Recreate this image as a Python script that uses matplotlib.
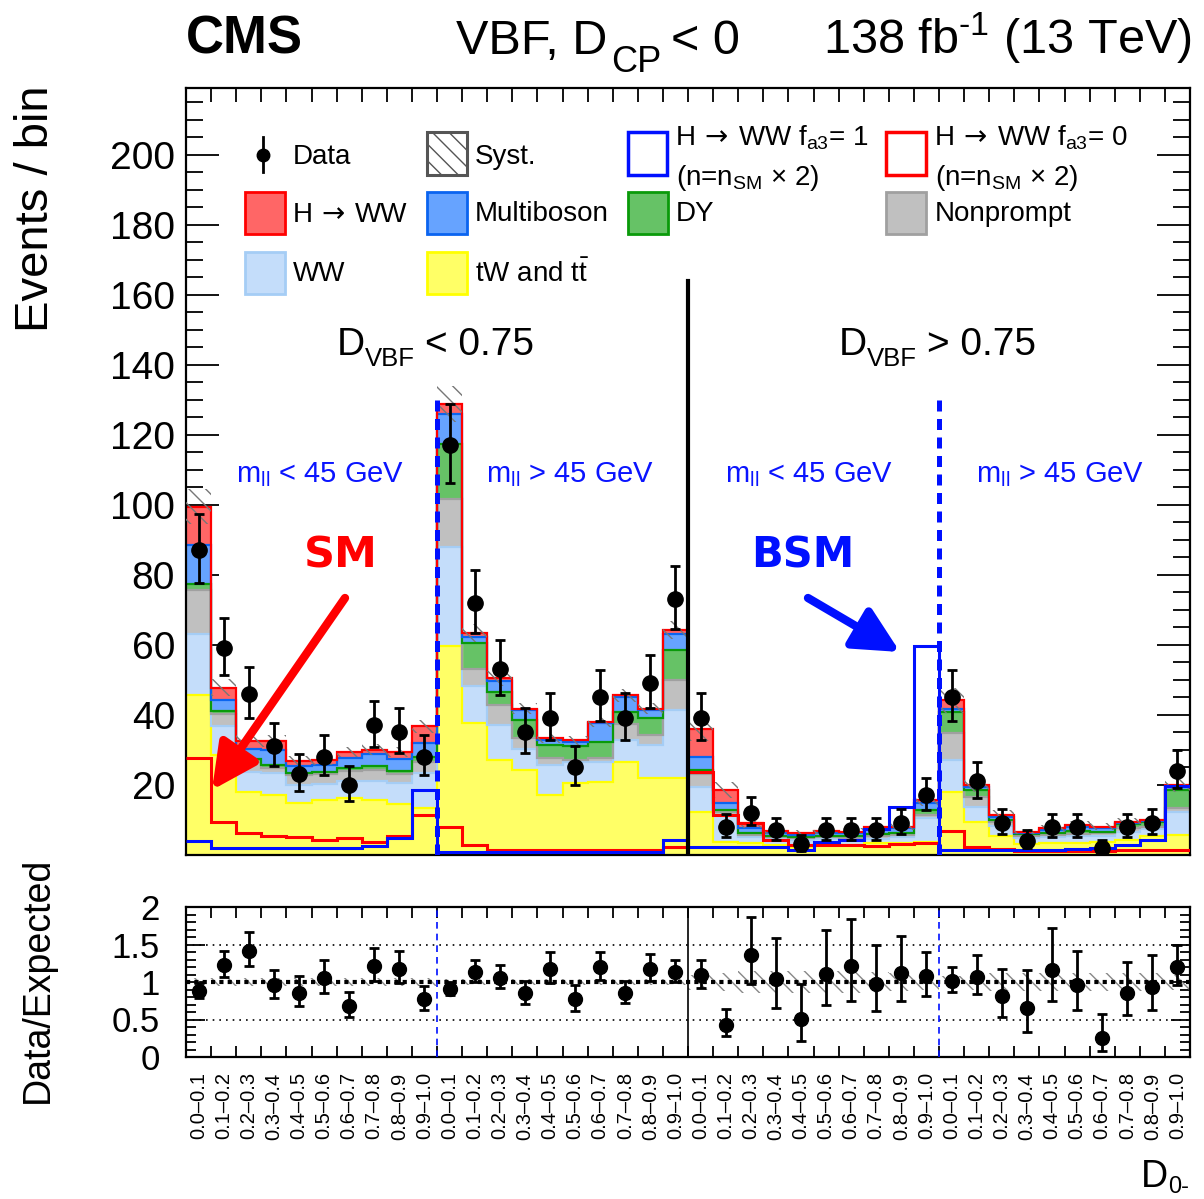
import numpy as np
import matplotlib
matplotlib.use("Agg")
import matplotlib.pyplot as plt
from matplotlib.patches import Rectangle

plt.rcParams['font.family'] = ['Liberation Sans', 'DejaVu Sans']
plt.rcParams['mathtext.fontset'] = 'custom'
plt.rcParams['mathtext.rm'] = 'Liberation Sans'
plt.rcParams['mathtext.it'] = 'Liberation Sans:italic'
plt.rcParams['mathtext.bf'] = 'Liberation Sans:bold'
plt.rcParams['hatch.linewidth'] = 1.0

# ---- data (40 bins: 4 categories x 10 D0- bins) ----
bin_labels = ["0.0–0.1", "0.1–0.2", "0.2–0.3", "0.3–0.4", "0.4–0.5",
              "0.5–0.6", "0.6–0.7", "0.7–0.8", "0.8–0.9", "0.9–1.0"]

ttbar = [45.6, 28.5, 18.1, 17.1, 14.9, 15.7, 16.4, 15.7, 14.7, 13.5,
         59.6, 37.6, 27.1, 24.2, 17.1, 20.5, 20.9, 26.6, 21.9, 21.9,
         12.4, 3.8, 3.5, 2.9, 2.4, 3.1, 2.9, 3.3, 3.3, 3.8,
         18.1, 9.5, 5.4, 3.1, 3.3, 3.3, 3.8, 4.3, 5.4, 5.7]
ww = [17.4, 8.3, 5.7, 6.4, 5.1, 4.6, 4.8, 5.5, 5.8, 10.0,
      28.3, 10.6, 10.0, 6.2, 8.6, 6.1, 5.7, 6.2, 9.5, 19.5,
      7.1, 7.6, 1.7, 1.8, 1.9, 1.4, 1.4, 1.4, 1.7, 6.7,
      9.0, 4.3, 2.9, 1.7, 1.7, 2.0, 1.7, 2.3, 1.9, 6.7]
nonprompt = [12.6, 3.6, 2.8, 1.4, 2.8, 2.7, 2.8, 3.0, 2.5, 3.1,
             13.8, 5.0, 5.7, 2.9, 1.9, 0.5, 1.0, 4.7, 2.8, 8.5,
             3.6, 1.0, 0.5, 0.5, 0.5, 0.5, 0.6, 0.6, 0.7, 1.0,
             7.6, 2.8, 1.0, 0.6, 0.7, 0.7, 0.7, 1.0, 0.8, 0.9]
dy = [1.7, 0.7, 0.7, 0.7, 0.5, 0.6, 0.7, 1.2, 1.0, 1.4,
      15.7, 7.2, 3.8, 5.2, 3.8, 4.0, 4.7, 3.4, 4.8, 8.6,
      1.3, 0.4, 0.5, 0.2, 0.4, 0.5, 0.4, 0.6, 0.5, 1.3,
      6.2, 1.9, 0.7, 0.5, 0.6, 0.9, 0.5, 1.2, 1.3, 5.4]
multiboson = [11.1, 3.1, 3.0, 4.5, 2.1, 2.1, 2.9, 3.4, 3.3, 3.9,
              8.4, 1.9, 3.1, 3.0, 1.4, 1.2, 5.4, 4.3, 2.4, 4.7,
              3.5, 2.1, 1.4, 0.8, 0.5, 0.7, 0.9, 1.4, 1.4, 2.1,
              0.9, 0.9, 0.9, 0.5, 0.8, 1.2, 1.1, 0.4, 0.4, 0.7]
hww = [11.1, 3.6, 2.3, 2.5, 1.5, 1.4, 1.9, 1.3, 2.2, 4.9,
       3.0, 1.1, 0.7, 0.3, 0.5, 0.5, 0.3, 0.4, 0.4, 1.1,
       8.2, 3.6, 1.6, 0.7, 0.5, 0.7, 0.5, 0.6, 0.5, 0.8,
       2.4, 0.6, 0.5, 0.3, 0.5, 0.5, 0.3, 0.3, 0.2, 0.6]

fa3_1 = [4.1, 1.9, 1.9, 1.9, 1.9, 1.9, 1.9, 2.6, 4.8, 18.5,
         0.9, 0.9, 0.9, 0.9, 0.9, 0.9, 0.9, 0.9, 0.9, 4.3,
         2.4, 2.3, 2.3, 2.3, 1.4, 3.8, 4.3, 7.3, 13.8, 59.6,
         1.4, 1.4, 1.3, 1.3, 1.3, 1.7, 2.0, 2.8, 4.3, 19.8]
fa3_0 = [27.6, 9.5, 6.4, 5.4, 5.0, 4.3, 4.8, 3.8, 5.4, 11.4,
         8.1, 2.9, 1.4, 1.4, 1.4, 1.4, 1.4, 1.4, 1.4, 2.4,
         23.8, 11.4, 9.1, 4.3, 2.9, 2.9, 2.8, 2.6, 3.0, 3.3,
         6.9, 2.4, 1.6, 1.2, 1.2, 1.2, 1.2, 1.4, 1.4, 1.4]

data = [87, 59, 46, 31, 23, 28, 20, 37, 35, 28,
        117, 72, 53, 35, 39, 25, 45, 39, 49, 73,
        39, 8, 12, 7, 3, 7, 7, 7, 9, 17,
        45, 21, 9, 4, 8, 8, 2, 8, 9, 24]

ratio = [0.88, 1.23, 1.42, 0.96, 0.86, 1.06, 0.68, 1.22, 1.18, 0.77,
         0.91, 1.14, 1.06, 0.85, 1.18, 0.77, 1.20, 0.86, 1.18, 1.14,
         1.09, 0.43, 1.36, 1.04, 0.51, 1.11, 1.21, 0.98, 1.12, 1.08,
         1.02, 1.07, 0.81, 0.66, 1.16, 0.96, 0.26, 0.86, 0.94, 1.20]

syst = [0.05, 0.05, 0.05, 0.05, 0.05, 0.05, 0.05, 0.05, 0.05, 0.05,
        0.04, 0.04, 0.04, 0.04, 0.04, 0.04, 0.04, 0.04, 0.04, 0.04,
        0.10, 0.12, 0.15, 0.15, 0.15, 0.15, 0.15, 0.14, 0.12, 0.10,
        0.08, 0.10, 0.12, 0.12, 0.12, 0.12, 0.12, 0.12, 0.12, 0.10]

# bottom -> top
stack = [(ttbar, "#ffff66", "#ffff00"),
         (ww, "#c4ddfa", "#a5cdf5"),
         (nonprompt, "#c0c0c0", "#a0a0a0"),
         (dy, "#66c266", "#0a9a0a"),
         (multiboson, "#66a3ff", "#0a64f0"),
         (hww, "#ff6666", "#ff0000")]

W, H = 1204, 1199
fig = plt.figure(figsize=(W / 100, H / 100), dpi=100)
ax = fig.add_axes([186 / W, 1 - 855 / H, 1004 / W, 767 / H])
ax2 = fig.add_axes([186 / W, 1 - 1057 / H, 1004 / W, 150 / H])

edges = np.arange(41)
centers = edges[:-1] + 0.5
data = np.array(data, dtype=float)
ratio = np.array(ratio)
syst = np.array(syst)

bottom = np.zeros(40)
for vals, face, edge in stack:
    top = bottom + np.array(vals)
    ax.stairs(top, edges, baseline=bottom, fill=True, color=face, lw=0, zorder=2)
    ax.stairs(top, edges, baseline=None, color=edge, lw=1.6, zorder=2.5)
    bottom = top
total = bottom

ax.stairs(total * (1 + syst), edges, baseline=total * (1 - syst), fill=True,
          facecolor='none', edgecolor='#777777', lw=0, hatch='\\\\', zorder=3)

ax.stairs(fa3_0, edges, baseline=None, color='#ff0000', lw=2.2, zorder=4)
ax.stairs(fa3_1, edges, baseline=None, color='#0010ff', lw=2.2, zorder=4.1)

err_lo = np.sqrt(data)
err_hi = np.sqrt(data) + 1
ax.errorbar(centers, data, yerr=[err_lo, err_hi], fmt='o', color='black', ms=11,
            elinewidth=2, capsize=3.5, capthick=2, zorder=6)

ax.plot([20, 20], [0, 164], color='black', lw=3, zorder=5)
for xv in (10, 30):
    ax.plot([xv, xv], [0, 130], color='#0010ff', lw=3.6, ls=(0, (2.2, 1.5)), zorder=5)

ax.set_xlim(0, 40)
ax.set_ylim(0, 219)
ax.set_yticks(np.arange(20, 201, 20))
ax.set_yticks(np.arange(5, 219, 5), minor=True)
ax.set_xticks(centers)
ax.set_xticks(edges, minor=True)
ax.tick_params(axis='y', which='major', direction='in', length=24, width=1.3,
               right=True, labelsize=28, pad=8)
ax.tick_params(axis='y', which='minor', direction='in', length=12, width=1.3, right=True)
ax.tick_params(axis='x', which='major', length=0, labelbottom=False)
ax.tick_params(axis='x', which='minor', direction='in', length=10, width=1.3,
               top=True, bottom=True)
for s in ax.spines.values():
    s.set_linewidth(1.6)

# ratio panel
ax2.stairs(1 + syst, edges, baseline=1 - syst, fill=True, facecolor='none',
           edgecolor='#888888', lw=0, hatch='\\\\', zorder=2)
ax2.axhline(1.0, color='black', lw=3, ls=(0, (1, 1)), zorder=3)
for yv in (0.5, 1.5):
    ax2.axhline(yv, color='black', lw=1.2, ls=(0, (1, 3)), zorder=3)
for xv in (10, 30):
    ax2.axvline(xv, color='#0010ff', lw=1.2, ls=(0, (4, 3)), zorder=3)
ax2.axvline(20, color='black', lw=1.2, zorder=3)
r_lo = ratio * err_lo / data
r_hi = ratio * err_hi / data
ax2.errorbar(centers, ratio, yerr=[r_lo, r_hi], fmt='o', color='black', ms=10,
             elinewidth=2, capsize=3.5, capthick=2, zorder=6)
ax2.set_xlim(0, 40)
ax2.set_ylim(0, 2.0)
ax2.set_yticks([0, 0.5, 1, 1.5, 2])
ax2.set_yticklabels(["0", "0.5", "1", "1.5", "2"])
ax2.set_yticks(np.arange(0, 2.01, 0.1), minor=True)
ax2.set_xticks(centers)
ax2.set_xticklabels(bin_labels * 4, rotation=90, fontsize=14.5)
ax2.set_xticks(edges, minor=True)
ax2.tick_params(axis='y', which='major', direction='in', length=14, width=1.3,
                right=True, labelsize=25, pad=19)
ax2.tick_params(axis='y', which='minor', direction='in', length=7, width=1.3, right=True)
ax2.tick_params(axis='x', which='major', length=0, pad=11)
ax2.tick_params(axis='x', which='minor', direction='in', length=8, width=1.3,
                top=True, bottom=True)
for s in ax2.spines.values():
    s.set_linewidth(1.6)

# overlay in pixel coordinates for texts, legend and arrows
ov = fig.add_axes([0, 0, 1, 1], zorder=10)
ov.set_xlim(0, W)
ov.set_ylim(H, 0)
ov.axis('off')
ov.patch.set_alpha(0)

ov.text(186, 54, "CMS", fontsize=38, fontweight='bold', ha='left', va='baseline')
ov.text(456, 54, "VBF, D", fontsize=35, ha='left', va='baseline')
ov.text(611, 72, "CP", fontsize=26, ha='left', va='baseline')
ov.text(671, 54, "< 0", fontsize=35, ha='left', va='baseline')
ov.text(1192, 54, r"138 fb$^{\text{-1}}$ (13 TeV)", fontsize=35, ha='right', va='baseline')
ov.text(36, 85, "Events / bin", fontsize=34, rotation=90, ha='center', va='top')
ov.text(38, 980, "Data/Expected", fontsize=27, rotation=90, ha='center', va='center')
ov.text(1141, 1187, "D", fontsize=27, ha='left', va='baseline')
ov.text(1168, 1193, "0-", fontsize=17, ha='left', va='baseline')

for x0, sign in ((337, "<"), (839, ">")):
    ov.text(x0, 355, "D", fontsize=28, ha='left', va='baseline')
    ov.text(x0 + 28, 366, "VBF", fontsize=18.5, ha='left', va='baseline')
    ov.text(x0 + 88, 355, sign + " 0.75", fontsize=28, ha='left', va='baseline')

blue_txt = '#0a14ff'
for xc, sign in ((320, "<"), (570, ">"), (809, "<"), (1060, ">")):
    ov.text(xc, 482, r"m$_{\mathregular{ll}}$ " + sign + " 45 GeV", fontsize=21,
            color=blue_txt, ha='center', va='baseline')

ov.text(341, 567, "SM", fontsize=31, color='#ff0000', fontweight='bold',
        family='DejaVu Sans', ha='center', va='baseline')
ov.text(803, 567, "BSM", fontsize=30, color='#0010ff', fontweight='bold',
        family='DejaVu Sans', ha='center', va='baseline')
ov.annotate("", xy=(212, 790), xytext=(345, 598),
            arrowprops=dict(arrowstyle='-|>,head_length=1.1,head_width=0.55',
                            lw=6, color='#ff0000', mutation_scale=25,
                            shrinkA=0, shrinkB=0))
ov.annotate("", xy=(900, 652), xytext=(808, 598),
            arrowprops=dict(arrowstyle='-|>,head_length=1.1,head_width=0.55',
                            lw=6, color='#0010ff', mutation_scale=25,
                            shrinkA=0, shrinkB=0))

# legend
fs_leg = 20


def hww_text(x, y, rest):
    ov.text(x, y, "H", fontsize=fs_leg, ha='left', va='baseline')
    ov.text(x + 28, y, "→", fontsize=fs_leg, family='DejaVu Sans', ha='left', va='baseline')
    ov.text(x + 62, y, rest, fontsize=fs_leg, ha='left', va='baseline')


ov.plot([263, 263], [137, 172], color='black', lw=2)
ov.plot([263], [155], 'o', color='black', ms=9)
ov.text(293, 157, "Data", fontsize=fs_leg, ha='left', va='center')
ov.add_patch(Rectangle((427, 132), 40, 43, facecolor='white', edgecolor='#555555',
                       lw=2.2, hatch='\\\\'))
ov.text(475, 157, "Syst.", fontsize=fs_leg, ha='left', va='center')
ov.add_patch(Rectangle((628, 132), 39, 43, facecolor='white', edgecolor='#0010ff', lw=2.5))
hww_text(676, 145, r"WW f$_{\mathregular{a3}}$= 1")
ov.text(676, 185, r"(n=n$_{\mathregular{SM}}$ × 2)", fontsize=fs_leg, ha='left', va='baseline')
ov.add_patch(Rectangle((886, 132), 40, 43, facecolor='white', edgecolor='#ff0000', lw=2.5))
hww_text(935, 145, r"WW f$_{\mathregular{a3}}$= 0")
ov.text(935, 185, r"(n=n$_{\mathregular{SM}}$ × 2)", fontsize=fs_leg, ha='left', va='baseline')

leg_rows = [((245, 192), "#ff6666", "#ff0000", None, 293),
            ((427, 192), "#66a3ff", "#0a64f0", "Multiboson", 475),
            ((628, 192), "#66c266", "#0a9a0a", "DY", 676),
            ((886, 192), "#c0c0c0", "#a0a0a0", "Nonprompt", 935),
            ((245, 252), "#c4ddfa", "#a5cdf5", "WW", 293),
            ((427, 252), "#ffff66", "#ffff00", r"tW and t$\mathregular{\bar{t}}$", 475)]
for (x0, y0), face, edge, label, tx in leg_rows:
    ov.add_patch(Rectangle((x0, y0), 40, 42, facecolor=face, edgecolor=edge, lw=2))
    if label is None:
        hww_text(tx, y0 + 30, "WW")
    else:
        ov.text(tx, y0 + 22, label, fontsize=fs_leg, ha='left', va='center')

fig.savefig("out.png", dpi=100, facecolor='white')
